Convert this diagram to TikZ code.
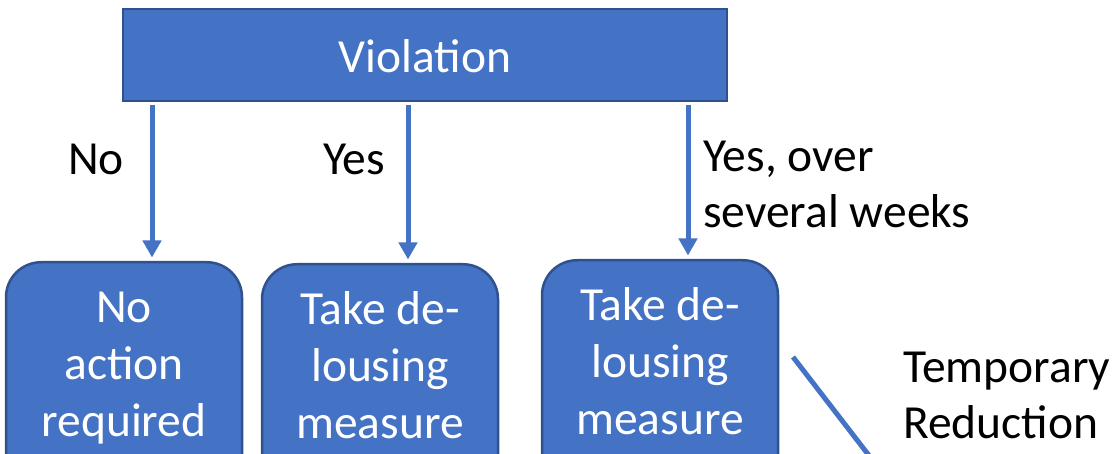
\documentclass[tikz,border=0pt]{standalone}
\usepackage{fontspec}
\setmainfont{Carlito}
\usetikzlibrary{arrows.meta}
\definecolor{boxfill}{HTML}{4472C4}
\definecolor{boxline}{HTML}{2F528F}
\tikzset{
  headbox/.style={draw=boxline, line width=2.5pt, fill=boxfill, text=white,
    minimum width=604pt, minimum height=92pt, inner sep=0pt,
    text height=35pt, text depth=0pt,
    font=\fontsize{47.5}{57}\selectfont},
  leafbox/.style={draw=boxline, line width=2.5pt, fill=boxfill, rounded corners=35pt,
    minimum width=236pt, minimum height=320pt, anchor=north, inner sep=0pt},
  leaftext/.style={text=white, align=center, anchor=base, inner sep=0pt,
    font=\fontsize{47.5}{57}\selectfont},
  lbl/.style={text=black, align=left, anchor=base west, inner sep=0pt,
    font=\fontsize{47.5}{56}\selectfont},
  flow/.style={draw=boxfill, line width=5pt,
    -{Triangle[width=18pt,length=17pt]}, shorten <=2.5pt, shorten >=3.5pt},
  flowline/.style={draw=boxfill, line width=5pt}
}
\begin{document}
\begin{tikzpicture}[x=1pt,y=-1pt]
  \useasboundingbox (0,0) rectangle (1117,454);
  \clip (0,0) rectangle (1117,454);

  % decision box
  \node[headbox] (viol) at (425,55) {Violation};

  % outcome boxes (they run on past the lower edge)
  \node[leafbox] (b1) at (124,261) {};
  \node[leafbox] (b2) at (380,263) {};
  \node[leafbox] (b3) at (660,259) {};

  % multi-line texts: the base anchor sits on the last line
  \node[leaftext] (t1) at (124,436) {No\\action\\required};
  \node[leaftext] (t2) at (380,438) {Take de-\\lousing\\measure};
  \node[leaftext] (t3) at (660,434) {Take de-\\lousing\\measure};

  % arrow columns
  \coordinate (c1) at (152,0);
  \coordinate (c2) at (408,0);
  \coordinate (c3) at (688,0);
  \draw[flow] (viol.south -| c1) -- (b1.north -| c1);
  \draw[flow] (viol.south -| c2) -- (b2.north -| c2);
  \draw[flow] (viol.south -| c3) -- (b3.north -| c3);

  % branch labels
  \node[lbl] (l1) at (68,175) {No};
  \node[lbl] (l2) at (323,175) {Yes};
  \node[lbl] (l3) at (703,228) {Yes, over\\several weeks};

  % follow-up branch
  \coordinate (d0) at (793,357);
  \coordinate (d1) at (884,475);
  \draw[flowline] (d0) -- (d1);
  \node[lbl] (l4) at (903,438) {Temporary\\Reduction};
\end{tikzpicture}
\end{document}
